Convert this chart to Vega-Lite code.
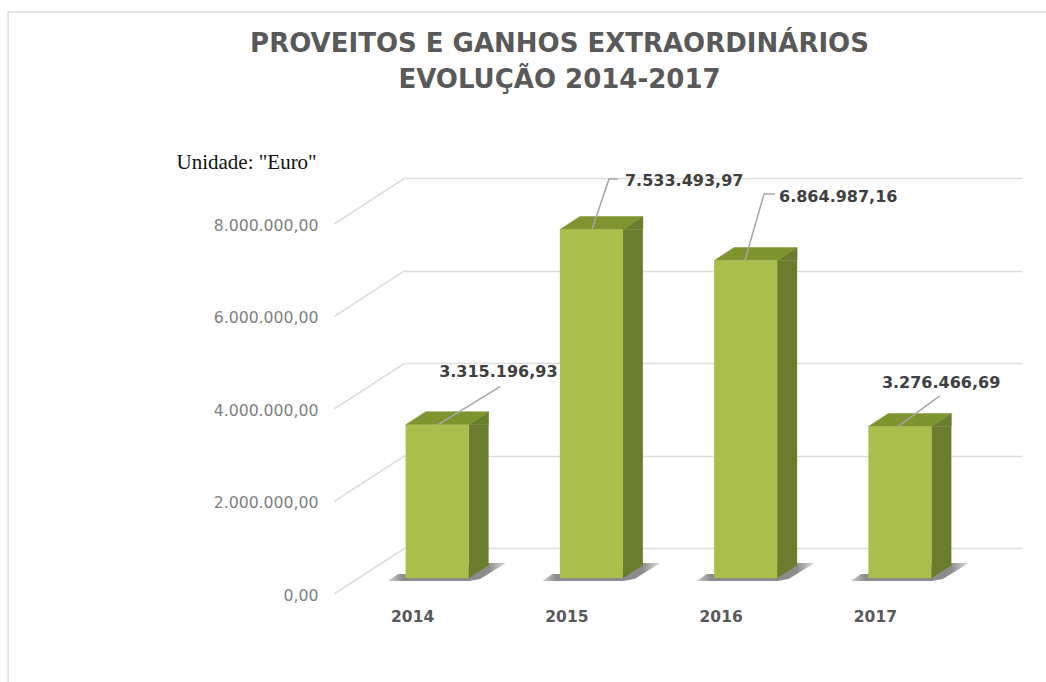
{
"$schema":"https://vega.github.io/schema/vega-lite/v6.json",
"autosize":{"type":"none"},
"padding":{"left":405,"top":178,"right":24,"bottom":134},
"width":617,"height":370,
"background":"#ffffff",
"config":{"view":{"stroke":null},"locale":{"number":{"decimal":",","thousands":".","grouping":[3],"currency":["","€"]}}},
"title":{"text":["PROVEITOS E GANHOS EXTRAORDINÁRIOS","EVOLUÇÃO 2014-2017"],"anchor":"middle","frame":"group","dx":-154,"offset":-84,"font":"DejaVu Sans","fontWeight":"bold","fontSize":26,"lineHeight":36,"color":"#595959"},
"datasets":{
"bars":[
{"year":"2014","value":3315196.93},
{"year":"2015","value":7533493.97},
{"year":"2016","value":6864987.16},
{"year":"2017","value":3276466.69}],
"ticks":[{"tick":0},{"tick":2000000},{"tick":4000000},{"tick":6000000},{"tick":8000000}]
},
"data":{"name":"bars"},
"encoding":{
"x":{"field":"year","type":"nominal","sort":["2014","2015","2016","2017"],
"scale":{"type":"band","paddingInner":0,"paddingOuter":0},
"axis":{"title":null,"ticks":false,"domain":false,"grid":false,"labelAngle":0,"labelOffset":-69.5,"labelPadding":61,"labelFont":"DejaVu Sans","labelFontWeight":"bold","labelFontSize":15.5,"labelColor":"#595959"}},
"y":{"field":"value","type":"quantitative","stack":null,
"scale":{"domain":[0,8000000],"nice":false,"zero":true},
"axis":{"values":[0,2000000,4000000,6000000,8000000],"format":",.2f","ticks":false,"domain":false,"offset":87,"labelPadding":0,"labelOffset":47,"labelFont":"DejaVu Sans","labelFontSize":15.7,"labelColor":"#7f7f7f",
"grid":true,"gridColor":"#DEDEDE","gridWidth":1.5,
"title":"Unidade: \"Euro\"","titleAngle":0,"titleAlign":"left","titleBaseline":"middle","titleX":-142,"titleY":-16,"titleFont":"Liberation Serif","titleFontWeight":"normal","titleFontSize":21,"titleColor":"#111111"}}
},
"layer":[
{"data":{"name":"ticks"},"transform":[{"filter":"datum.tick===0"}],
"mark":{"type":"point","shape":"M-474,134 L-474,-536 L564,-536","size":4,"filled":false,"stroke":"#DEDEDE","strokeWidth":1.5,"opacity":1},
"encoding":{"x":{"datum":"2014"},"y":{"field":"tick","type":"quantitative"}}},
{"data":{"name":"ticks"},
"mark":{"type":"point","shape":"M-148,46 L-77,0","size":4,"filled":false,"stroke":"#DEDEDE","strokeWidth":1.5,"opacity":1},
"encoding":{"x":{"datum":"2014"},"y":{"field":"tick","type":"quantitative"}}},
{"mark":{"type":"point","shape":"M-94,33 L-84,26 L-60,26 L6,15 L24,15 L-2,31 L-13,33 Z","size":4,"filled":true,"fill":{"gradient":"linear","x1":0,"y1":0,"x2":1,"y2":0,"stops":[{"offset":0,"color":"#d0d0d0"},{"offset":0.12,"color":"#8c8c8c"},{"offset":0.85,"color":"#8c8c8c"},{"offset":1,"color":"#e0e0e0"}]},"stroke":null,"opacity":1},
"encoding":{"y":{"datum":0}}},
{"mark":{"type":"bar","size":20,"xOffset":-3.5,"yOffset":30,"y2Offset":17,"color":"#6A7D2E"},"encoding":{"y2":{"datum":0}}},
{"mark":{"type":"point","shape":"M-13.5,30 L6.5,17 L6.5,30 Z","size":4,"filled":true,"fill":"#6A7D2E","stroke":"#6A7D2E","strokeWidth":0.5,"opacity":1}},
{"mark":{"type":"point","shape":"M-13.5,30 L6.5,17 L-13.5,17 Z","size":4,"filled":true,"fill":"#6A7D2E","stroke":"#6A7D2E","strokeWidth":0.5,"opacity":1},
"encoding":{"y":{"datum":0}}},
{"mark":{"type":"point","shape":"M-76.5,30 L-13.5,30 L6.5,17 L-56.5,17 Z","size":4,"filled":true,"fill":"#7E952F","stroke":"#7E952F","strokeWidth":0.5,"opacity":1}},
{"mark":{"type":"bar","size":63,"xOffset":-45,"yOffset":30,"y2Offset":30,"color":"#A8BF4B"},"encoding":{"y2":{"datum":0}}},
{"transform":[{"filter":"datum.year==='2014'"}],
"layer":[
{"mark":{"type":"point","shape":"M-44,30 L18,-8","size":4,"filled":false,"stroke":"#A6A6A6","strokeWidth":1.5,"opacity":1}},
{"mark":{"type":"text","align":"left","baseline":"middle","dx":-43,"dy":-23,"font":"DejaVu Sans","fontWeight":"bold","fontSize":16,"color":"#404040"},"encoding":{"text":{"field":"value","type":"quantitative","format":",.2f"}}}]},
{"transform":[{"filter":"datum.year==='2015'"}],
"layer":[
{"mark":{"type":"point","shape":"M-44.4,30 L-27.4,-20.6 L-18.4,-20.6","size":4,"filled":false,"stroke":"#A6A6A6","strokeWidth":1.5,"opacity":1}},
{"mark":{"type":"text","align":"left","baseline":"middle","dx":-11.4,"dy":-18.6,"font":"DejaVu Sans","fontWeight":"bold","fontSize":16,"color":"#404040"},"encoding":{"text":{"field":"value","type":"quantitative","format":",.2f"}}}]},
{"transform":[{"filter":"datum.year==='2016'"}],
"layer":[
{"mark":{"type":"point","shape":"M-45.6,29.5 L-26.6,-36.5 L-15.6,-36.5","size":4,"filled":false,"stroke":"#A6A6A6","strokeWidth":1.5,"opacity":1}},
{"mark":{"type":"text","align":"left","baseline":"middle","dx":-11.6,"dy":-33.5,"font":"DejaVu Sans","fontWeight":"bold","fontSize":16,"color":"#404040"},"encoding":{"text":{"field":"value","type":"quantitative","format":",.2f"}}}]},
{"transform":[{"filter":"datum.year==='2017'"}],
"layer":[
{"mark":{"type":"point","shape":"M-46,29.5 L-5,-0.5","size":4,"filled":false,"stroke":"#A6A6A6","strokeWidth":1.5,"opacity":1}},
{"mark":{"type":"text","align":"left","baseline":"middle","dx":-63,"dy":-13.5,"font":"DejaVu Sans","fontWeight":"bold","fontSize":16,"color":"#404040"},"encoding":{"text":{"field":"value","type":"quantitative","format":",.2f"}}}]}
]
}
